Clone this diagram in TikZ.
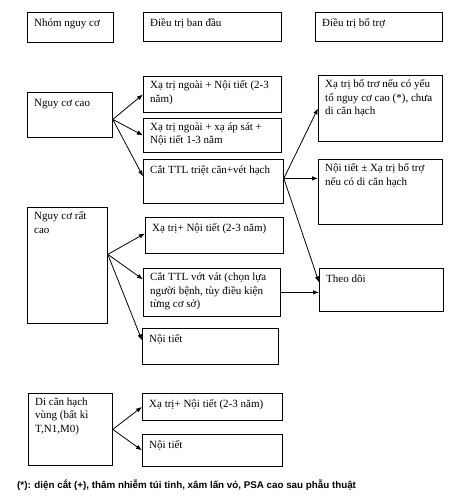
\documentclass[tikz,border=0pt]{standalone}
\usepackage{fontspec}
\setmainfont{Liberation Serif}
\newfontfamily\notefont{Liberation Sans}
\usetikzlibrary{arrows.meta}

\begin{document}
\begin{tikzpicture}[x=1pt, y=-1pt, font=\fontsize{11}{13.5}\selectfont,
    frame/.style={draw, anchor=north west, inner sep=0pt, line width=0.8pt},
    txt/.style={anchor=north west, inner sep=0pt, align=left, xshift=7pt, yshift=-4.5pt,
      execute at begin node={\strut}},
    >={Latex[length=6pt, width=4.5pt]}]
  \useasboundingbox (0,0) rectangle (475,497);

  % column headers
  \node[frame, minimum width=86pt, minimum height=30pt] (nhom) at (27,12) {};
  \node[txt] (nhomt) at (nhom.north west) {Nhóm nguy cơ};
  \node[frame, minimum width=138pt, minimum height=29pt] (bandau) at (143,12) {};
  \node[txt] (bandaut) at (bandau.north west) {Điều trị ban đầu};
  \node[frame, minimum width=127pt, minimum height=29pt] (botro) at (315,12) {};
  \node[txt] (botrot) at (botro.north west) {Điều trị bổ trợ};

  % high risk
  \node[frame, minimum width=85pt, minimum height=45pt] (cao) at (27,92) {};
  \node[txt] (caot) at (cao.north west) {Nguy cơ cao};
  \node[frame, minimum width=138pt, minimum height=36pt] (cao1) at (143,76) {};
  \node[txt] (cao1t) at (cao1.north west) {Xạ trị ngoài + Nội tiết (2-3\\năm)};
  \node[frame, minimum width=138pt, minimum height=34pt] (cao2) at (143,118) {};
  \node[txt] (cao2t) at (cao2.north west) {Xạ trị ngoài + xạ áp sát +\\Nội tiết 1-3 năm};
  \node[frame, minimum width=140pt, minimum height=44pt] (cao3) at (143,159) {};
  \node[txt] (cao3t) at (cao3.north west) {Cắt TTL triệt căn+vét hạch};
  \node[frame, minimum width=124pt, minimum height=66pt] (bt1) at (318,75) {};
  \node[txt] (bt1t) at (bt1.north west) {Xạ trị bổ trơ nếu có yếu\\tố nguy cơ cao (*), chưa\\di căn hạch};
  \node[frame, minimum width=124pt, minimum height=65pt] (bt2) at (318,159) {};
  \node[txt] (bt2t) at (bt2.north west) {Nội tiết ± Xạ trị bổ trợ\\nếu có di căn hạch};

  % very high risk
  \node[frame, minimum width=80pt, minimum height=116pt] (ratcao) at (27,207) {};
  \node[txt] (ratcaot) at (ratcao.north west) {Nguy cơ rất\\cao};
  \node[frame, minimum width=138pt, minimum height=36pt] (rc1) at (145,217) {};
  \node[txt] (rc1t) at (rc1.north west) {Xạ trị+ Nội tiết (2-3 năm)};
  \node[frame, minimum width=137pt, minimum height=48pt] (rc2) at (143,268) {};
  \node[txt] (rc2t) at (rc2.north west) {Cắt TTL vớt vát (chọn lựa\\người bệnh, tùy điều kiện\\từng cơ sở)};
  \node[frame, minimum width=136pt, minimum height=36pt] (rc3) at (142,328) {};
  \node[txt] (rc3t) at (rc3.north west) {Nội tiết};
  \node[frame, minimum width=124pt, minimum height=43pt] (theodoi) at (319,268) {};
  \node[txt] (theodoit) at (theodoi.north west) {Theo dõi};

  % regional nodes
  \node[frame, minimum width=84pt, minimum height=72pt] (dch) at (28,393) {};
  \node[txt] (dcht) at (dch.north west) {Di căn hạch\\vùng (bất kì\\T,N1,M0)};
  \node[frame, minimum width=140pt, minimum height=27pt] (dch1) at (142,393) {};
  \node[txt] (dch1t) at (dch1.north west) {Xạ trị+ Nội tiết (2-3 năm)};
  \node[frame, minimum width=140pt, minimum height=32pt] (dch2) at (142,434) {};
  \node[txt] (dch2t) at (dch2.north west) {Nội tiết};

  \node[anchor=west, inner sep=0pt, font=\notefont\bfseries\fontsize{9.8}{11}\selectfont] (note) at (17,485)
    {(*): diện cắt (+), thâm nhiễm túi tinh, xâm lấn vỏ, PSA cao sau phẫu thuật};

  % connectors
  \coordinate (caoout) at ([yshift=-4.5pt]cao.east);
  \coordinate (cutout) at ([yshift=3pt]cao3.east);
  \coordinate (ratout) at ([yshift=11pt]ratcao.east);
  \begin{scope}[line width=0.8pt]
    \draw[->] (caoout) -- (cao1.west);
    \draw[->] (caoout) -- (cao2.west);
    \draw[->] (caoout) -- ([yshift=5pt]cao3.west);
    \draw[->] (cutout) -- (bt1.west);
    \draw[->] (cutout) -- (bt2.west |- cutout);
    \draw[->] (cutout) -- ([yshift=7.5pt]theodoi.west);
    \draw[->] (ratout) -- ([yshift=2pt]rc1.west);
    \draw[->] (ratout) -- ([yshift=13pt]rc2.west);
    \draw[->] (ratout) -- ([yshift=6pt]rc3.west);
    \draw[->] (rc2.east) -- (theodoi.west |- rc2.east);
    \draw[->] (dch.east) -- (dch1.west);
    \draw[->] (dch.east) -- (dch2.west);
  \end{scope}
\end{tikzpicture}
\end{document}
